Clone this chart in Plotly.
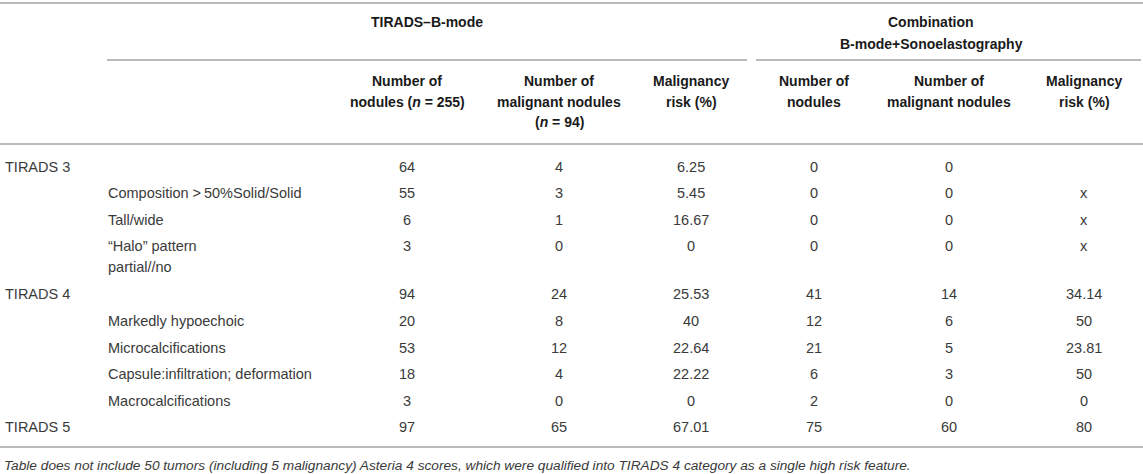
#%%
'''
TIRADS table: B-mode vs B-mode + sonoelastography
drawn as a plotly figure (text annotations + rule lines)
'''

import plotly.graph_objects as go

#### data
row_labels = ['TIRADS 3', 'Composition >\u200950%Solid/Solid', 'Tall/wide', '“Halo” pattern<br>partial//no',
              'TIRADS 4', 'Markedly hypoechoic', 'Microcalcifications', 'Capsule:infiltration; deformation',
              'Macrocalcifications', 'TIRADS 5']
row_is_sub = [False, True, True, True, False, True, True, True, True, False]

bmode_nodules = [64, 55, 6, 3, 94, 20, 53, 18, 3, 97]
bmode_malignant = [4, 3, 1, 0, 24, 8, 12, 4, 0, 65]
bmode_risk = [6.25, 5.45, 16.67, 0, 25.53, 40, 22.64, 22.22, 0, 67.01]
combo_nodules = [0, 0, 0, 0, 41, 12, 21, 6, 2, 75]
combo_malignant = [0, 0, 0, 0, 14, 6, 5, 3, 0, 60]
combo_risk = [None, 'x', 'x', 'x', 34.14, 50, 23.81, 50, 0, 80]

group_headers = ['TIRADS–B-mode', 'Combination<br>B-mode+Sonoelastography']
col_headers = ['Number of<br>nodules (<i>n</i> = 255)',
               'Number of<br>malignant nodules<br>(<i>n</i> = 94)',
               'Malignancy<br>risk (%)',
               'Number of<br>nodules',
               'Number of<br>malignant nodules',
               'Malignancy<br>risk (%)']
footnote = ('Table does not include 50 tumors (including 5 malignancy) Asteria 4 scores, '
            'which were qualified into TIRADS 4 category as a single high risk feature.')

#### layout numbers
W, H = 1143, 474
col_x = [407, 559, 691, 814, 949, 1084]
group_x = [427, 931]
label_x = [4, 107]
row0_y = 166.5
row_step = 26.6
two_line_extra = 21.5
line_color = '#a3a3a3'
font_face = 'Liberation Sans, Arial, sans-serif'
text_color = '#3a3a3a'
head_color = '#1a1a1a'


def fmt(v):
    if v is None:
        return ''
    if isinstance(v, str):
        return v
    return f'{v:g}'


def add_text(fig, x, y, text, size=14.5, color=text_color, xanchor='center', bold=False, italic=False):
    if bold:
        text = f'<b>{text}</b>'
    if italic:
        text = f'<i>{text}</i>'
    fig.add_annotation(x=x, y=y, xref='x', yref='y', text=text, showarrow=False,
                       xanchor=xanchor, yanchor='middle', align='left', borderpad=0,
                       font=dict(family=font_face, size=size, color=color))


def add_rule(fig, x0, x1, y):
    fig.add_shape(type='line', x0=x0, x1=x1, y0=y, y1=y, xref='x', yref='y',
                  line=dict(color=line_color, width=1.5))


fig = go.Figure()

#### rules
add_rule(fig, 0, W, 3)
add_rule(fig, 107, 747, 60)
add_rule(fig, 756, 1141, 60)
add_rule(fig, 0, W, 144)
add_rule(fig, 0, W, 447)

#### group headers
for gx, gh in zip(group_x, group_headers):
    for k, part in enumerate(gh.split('<br>')):
        add_text(fig, gx, 22 + 22 * k, part, size=14, color=head_color, bold=True)

#### column headers
for cx, ch in zip(col_x, col_headers):
    for k, part in enumerate(ch.split('<br>')):
        add_text(fig, cx, 81 + 20.5 * k, part, size=14, color=head_color, bold=True)

#### body
columns = [bmode_nodules, bmode_malignant, bmode_risk, combo_nodules, combo_malignant, combo_risk]
y = row0_y
for i, label in enumerate(row_labels):
    lx = label_x[1] if row_is_sub[i] else label_x[0]
    parts = label.split('<br>')
    for k, part in enumerate(parts):
        add_text(fig, lx, y + 20.5 * k, part, xanchor='left')
    for cx, col in zip(col_x, columns):
        add_text(fig, cx, y, fmt(col[i]))
    y += row_step + two_line_extra * (len(parts) - 1)

#### footnote
add_text(fig, 3, 465, footnote, size=13.7, xanchor='left', italic=True)

fig.update_xaxes(range=[0, W], visible=False, fixedrange=True)
fig.update_yaxes(range=[H, 0], visible=False, fixedrange=True)
fig.update_layout(width=W, height=H, margin=dict(l=0, r=0, t=0, b=0),
                  plot_bgcolor='white', paper_bgcolor='white', showlegend=False)

# page default body margin would push the figure 8px off the window
fig.write_html('out.html', config={'displayModeBar': False},
               post_script="document.body.style.margin='0';document.body.style.overflow='hidden';")
